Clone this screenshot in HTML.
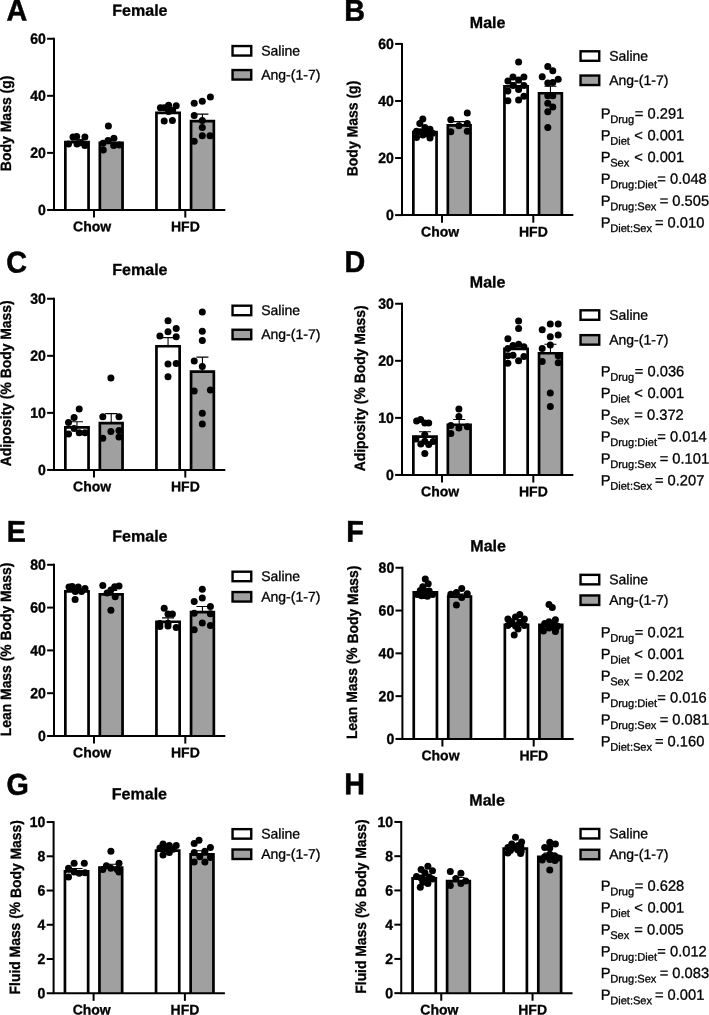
<!DOCTYPE html>
<html lang="en">
<head>
<meta charset="utf-8">
<title>Figure</title>
<style>
html,body{margin:0;padding:0;background:#fff;}
body{width:709px;height:1015px;overflow:hidden;}
svg{display:block;}
text{font-family:"Liberation Sans",sans-serif;fill:#000;text-rendering:geometricPrecision;}
.letter{font-size:30.0px;font-weight:bold;stroke:#000;stroke-width:0.5px;}
.title{font-size:16px;font-weight:bold;stroke:#000;stroke-width:0.3px;}
.ylab{font-size:14.9px;font-weight:bold;stroke:#000;stroke-width:0.3px;}
.tick{font-size:14.7px;font-weight:bold;stroke:#000;stroke-width:0.35px;}
.xlab{font-size:14px;font-weight:bold;stroke:#000;stroke-width:0.3px;}
.leg{font-size:14px;stroke:#000;stroke-width:0.3px;}
.pv{font-size:14.7px;stroke:#000;stroke-width:0.3px;}
.sub{font-size:11.1px;stroke:#000;stroke-width:0.3px;}
.bar{stroke:#000;stroke-width:2.7;}
.lbox{stroke:#000;stroke-width:2.4;}
.axis{stroke:#000;stroke-width:2;fill:none;}
.err{stroke:#000;stroke-width:1.1;fill:none;}
.dots circle{fill:#000;}
</style>
</head>
<body>
<svg width="709" height="1015" viewBox="0 0 709 1015">
<rect width="709" height="1015" fill="#fff"/>
<g class="panel" id="panel-A">
<text class="letter" transform="translate(6.54 20.45) rotate(0.03) scale(0.9567 1)">A</text>
<text class="title" transform="translate(139.9 15.8) rotate(0.03)" text-anchor="middle">Female</text>
<text class="ylab" transform="translate(11 123.35) rotate(-89.97) scale(0.94 1)" text-anchor="middle">Body Mass (g)</text>
<path class="err" d="M76.95 141.8V139.9M70.95 139.9H82.95"/>
<path class="bar" d="M65.35 209.95V142.15H88.55V209.95" fill="#fff"/>
<path class="err" d="M111.2 142.6V139.4M105.2 139.4H117.2"/>
<path class="bar" d="M99.85 209.95V142.95H122.55V209.95" fill="#a0a0a0"/>
<path class="err" d="M168.05 112.6V109.8M162.05 109.8H174.05"/>
<path class="bar" d="M156.45 209.95V112.95H179.65V209.95" fill="#fff"/>
<path class="err" d="M202.45 120.7V114.1M196.45 114.1H208.45"/>
<path class="bar" d="M191.05 209.95V121.05H213.85V209.95" fill="#a0a0a0"/>
<path class="axis" d="M54 37.75V209.95H225.3"/>
<path class="axis" d="M47.1 209.95H54"/>
<text class="tick" transform="translate(45.8 214.95) rotate(0.03) scale(0.955 1)" text-anchor="end">0</text>
<path class="axis" d="M47.1 152.88H54"/>
<text class="tick" transform="translate(45.8 157.88) rotate(0.03) scale(0.955 1)" text-anchor="end">20</text>
<path class="axis" d="M47.1 95.82H54"/>
<text class="tick" transform="translate(45.8 100.82) rotate(0.03) scale(0.955 1)" text-anchor="end">40</text>
<path class="axis" d="M47.1 38.75H54"/>
<text class="tick" transform="translate(45.8 43.75) rotate(0.03) scale(0.955 1)" text-anchor="end">60</text>
<path class="axis" d="M94 209.95V217.55"/>
<text class="xlab" transform="translate(92.1 231.25) rotate(0.03)" text-anchor="middle">Chow</text>
<path class="axis" d="M185.3 209.95V217.55"/>
<text class="xlab" transform="translate(185.4 231.25) rotate(0.03)" text-anchor="middle">HFD</text>
<g class="dots"><circle cx="73" cy="137.1" r="3.5"/><circle cx="76.7" cy="136.5" r="3.5"/><circle cx="84.9" cy="137.1" r="3.5"/><circle cx="68.5" cy="143.9" r="3.5"/><circle cx="77" cy="143.9" r="3.5"/><circle cx="84.9" cy="145.5" r="3.5"/><circle cx="81" cy="142.7" r="3.5"/><circle cx="108.4" cy="126" r="3.5"/><circle cx="113.9" cy="138.2" r="3.5"/><circle cx="108" cy="140.5" r="3.5"/><circle cx="103" cy="143.3" r="3.5"/><circle cx="113.7" cy="145.5" r="3.5"/><circle cx="119.3" cy="145" r="3.5"/><circle cx="103.3" cy="150.1" r="3.5"/><circle cx="160.4" cy="107.8" r="3.5"/><circle cx="164.2" cy="107.8" r="3.5"/><circle cx="168.6" cy="105.2" r="3.5"/><circle cx="168.6" cy="111.6" r="3.5"/><circle cx="176.2" cy="105.7" r="3.5"/><circle cx="172.6" cy="110.3" r="3.5"/><circle cx="164.2" cy="121" r="3.5"/><circle cx="172.4" cy="120.5" r="3.5"/><circle cx="194.2" cy="103.2" r="3.5"/><circle cx="202.3" cy="101.2" r="3.5"/><circle cx="210.4" cy="96.9" r="3.5"/><circle cx="194.2" cy="115.4" r="3.5"/><circle cx="202.3" cy="120.5" r="3.5"/><circle cx="202.3" cy="127.6" r="3.5"/><circle cx="202.3" cy="135.7" r="3.5"/><circle cx="210" cy="135.7" r="3.5"/><circle cx="194.2" cy="141.3" r="3.5"/></g>
<rect class="lbox" x="232.55" y="46.05" width="18.7" height="9.5" fill="#fff"/>
<rect class="lbox" x="232.55" y="70.05" width="18.7" height="9.5" fill="#a0a0a0"/>
<text class="leg" transform="translate(261.2 55.4) rotate(0.03)">Saline</text>
<text class="leg" transform="translate(261.2 79.4) rotate(0.03)">Ang-(1-7)</text>
</g>
<g class="panel" id="panel-B">
<text class="letter" transform="translate(344.33 20.75) rotate(0.03) scale(0.9567 1)">B</text>
<text class="title" transform="translate(487.6 27.9) rotate(0.03)" text-anchor="middle">Male</text>
<text class="ylab" transform="translate(357.5 128.5) rotate(-89.97) scale(0.94 1)" text-anchor="middle">Body Mass (g)</text>
<path class="err" d="M424.95 131.7V129.7M418.95 129.7H430.95"/>
<path class="bar" d="M413.35 215.1V132.05H436.55V215.1" fill="#fff"/>
<path class="err" d="M459.2 125.1V121.6M453.2 121.6H465.2"/>
<path class="bar" d="M447.85 215.1V125.45H470.55V215.1" fill="#a0a0a0"/>
<path class="err" d="M516.05 86V82.8M510.05 82.8H522.05"/>
<path class="bar" d="M504.45 215.1V86.35H527.65V215.1" fill="#fff"/>
<path class="err" d="M550.45 92.9V86.3M544.45 86.3H556.45"/>
<path class="bar" d="M539.05 215.1V93.25H561.85V215.1" fill="#a0a0a0"/>
<path class="axis" d="M402 42.9V215.1H573.3"/>
<path class="axis" d="M395.1 215.1H402"/>
<text class="tick" transform="translate(393.8 220.1) rotate(0.03) scale(0.955 1)" text-anchor="end">0</text>
<path class="axis" d="M395.1 158.03H402"/>
<text class="tick" transform="translate(393.8 163.03) rotate(0.03) scale(0.955 1)" text-anchor="end">20</text>
<path class="axis" d="M395.1 100.97H402"/>
<text class="tick" transform="translate(393.8 105.97) rotate(0.03) scale(0.955 1)" text-anchor="end">40</text>
<path class="axis" d="M395.1 43.9H402"/>
<text class="tick" transform="translate(393.8 48.9) rotate(0.03) scale(0.955 1)" text-anchor="end">60</text>
<path class="axis" d="M442 215.1V222.7"/>
<text class="xlab" transform="translate(440.1 236.4) rotate(0.03)" text-anchor="middle">Chow</text>
<path class="axis" d="M533.3 215.1V222.7"/>
<text class="xlab" transform="translate(533.4 236.4) rotate(0.03)" text-anchor="middle">HFD</text>
<g class="dots"><circle cx="422.8" cy="119.1" r="3.5"/><circle cx="419.8" cy="123.6" r="3.5"/><circle cx="424.9" cy="127.4" r="3.5"/><circle cx="416.5" cy="131.2" r="3.5"/><circle cx="420.3" cy="131.7" r="3.5"/><circle cx="430" cy="129.2" r="3.5"/><circle cx="416.5" cy="137.6" r="3.5"/><circle cx="422.8" cy="135" r="3.5"/><circle cx="426.7" cy="133.8" r="3.5"/><circle cx="430" cy="138.1" r="3.5"/><circle cx="432.5" cy="133.3" r="3.5"/><circle cx="425.4" cy="130.7" r="3.5"/><circle cx="467.3" cy="113" r="3.5"/><circle cx="450.8" cy="119.8" r="3.5"/><circle cx="467.3" cy="123.6" r="3.5"/><circle cx="458.9" cy="125.7" r="3.5"/><circle cx="450.8" cy="131.7" r="3.5"/><circle cx="467.3" cy="131.2" r="3.5"/><circle cx="518.6" cy="61.9" r="3.5"/><circle cx="513" cy="76.9" r="3.5"/><circle cx="523.9" cy="76.9" r="3.5"/><circle cx="507.9" cy="81" r="3.5"/><circle cx="518.6" cy="79.9" r="3.5"/><circle cx="513" cy="85.5" r="3.5"/><circle cx="523.9" cy="85.5" r="3.5"/><circle cx="507.9" cy="91.1" r="3.5"/><circle cx="518.6" cy="89.4" r="3.5"/><circle cx="523.9" cy="96.2" r="3.5"/><circle cx="507.9" cy="100.8" r="3.5"/><circle cx="518.6" cy="100" r="3.5"/><circle cx="547.8" cy="66.5" r="3.5"/><circle cx="552.8" cy="70.8" r="3.5"/><circle cx="542.2" cy="76.7" r="3.5"/><circle cx="558.2" cy="79.2" r="3.5"/><circle cx="547.8" cy="83" r="3.5"/><circle cx="552.8" cy="82.5" r="3.5"/><circle cx="547.8" cy="95.7" r="3.5"/><circle cx="552.8" cy="95.7" r="3.5"/><circle cx="547.8" cy="103.3" r="3.5"/><circle cx="552.8" cy="107.1" r="3.5"/><circle cx="547.8" cy="111.7" r="3.5"/><circle cx="547.8" cy="127.4" r="3.5"/></g>
<rect class="lbox" x="580.55" y="51.3" width="18.7" height="9.5" fill="#fff"/>
<rect class="lbox" x="580.55" y="75.55" width="18.7" height="9.5" fill="#a0a0a0"/>
<text class="leg" transform="translate(609.2 60.65) rotate(0.03)">Saline</text>
<text class="leg" transform="translate(609.2 84.9) rotate(0.03)">Ang-(1-7)</text>
<text class="pv" transform="translate(600.7 118.45) rotate(0.03)">P</text>
<text class="sub" transform="translate(610.15 122.95) rotate(0.03)">Drug</text>
<text class="pv" transform="translate(634.8 118.45) rotate(0.03)">= 0.291</text>
<text class="pv" transform="translate(600.7 140.25) rotate(0.03)">P</text>
<text class="sub" transform="translate(610.15 144.75) rotate(0.03)">Diet</text>
<text class="pv" transform="translate(633.75 140.25) rotate(0.03)"><tspan dx="0.5">&lt;</tspan><tspan dx="0.5"> 0.001</tspan></text>
<text class="pv" transform="translate(600.7 162.05) rotate(0.03)">P</text>
<text class="sub" transform="translate(610.15 166.55) rotate(0.03)">Sex</text>
<text class="pv" transform="translate(633.75 162.05) rotate(0.03)"><tspan dx="0.5">&lt;</tspan><tspan dx="0.5"> 0.001</tspan></text>
<text class="pv" transform="translate(600.7 183.85) rotate(0.03)">P</text>
<text class="sub" transform="translate(610.15 188.35) rotate(0.03)">Drug:Diet</text>
<text class="pv" transform="translate(657.3 183.85) rotate(0.03)">= 0.048</text>
<text class="pv" transform="translate(600.7 205.65) rotate(0.03)">P</text>
<text class="sub" transform="translate(610.15 210.15) rotate(0.03)">Drug:Sex</text>
<text class="pv" transform="translate(659.7 205.65) rotate(0.03)">= 0.505</text>
<text class="pv" transform="translate(600.7 227.45) rotate(0.03)">P</text>
<text class="sub" transform="translate(610.15 231.95) rotate(0.03)">Diet:Sex</text>
<text class="pv" transform="translate(654.9 227.45) rotate(0.03)">= 0.010</text>
</g>
<g class="panel" id="panel-C">
<text class="letter" transform="translate(6.27 272.45) rotate(0.03) scale(0.9567 1)">C</text>
<text class="title" transform="translate(139.9 275) rotate(0.03)" text-anchor="middle">Female</text>
<text class="ylab" transform="translate(11 383.35) rotate(-89.97) scale(0.932 1)" text-anchor="middle">Adiposity (% Body Mass)</text>
<path class="err" d="M76.95 427V421.7M70.95 421.7H82.95"/>
<path class="bar" d="M65.35 469.95V427.35H88.55V469.95" fill="#fff"/>
<path class="err" d="M111.2 422.7V413.6M105.2 413.6H117.2"/>
<path class="bar" d="M99.85 469.95V423.05H122.55V469.95" fill="#a0a0a0"/>
<path class="err" d="M168.05 345.9V337.6M162.05 337.6H174.05"/>
<path class="bar" d="M156.45 469.95V346.25H179.65V469.95" fill="#fff"/>
<path class="err" d="M202.45 371.3V357.1M196.45 357.1H208.45"/>
<path class="bar" d="M191.05 469.95V371.65H213.85V469.95" fill="#a0a0a0"/>
<path class="axis" d="M54 297.75V469.95H225.3"/>
<path class="axis" d="M47.1 469.95H54"/>
<text class="tick" transform="translate(45.8 474.95) rotate(0.03) scale(0.955 1)" text-anchor="end">0</text>
<path class="axis" d="M47.1 412.88H54"/>
<text class="tick" transform="translate(45.8 417.88) rotate(0.03) scale(0.955 1)" text-anchor="end">10</text>
<path class="axis" d="M47.1 355.82H54"/>
<text class="tick" transform="translate(45.8 360.82) rotate(0.03) scale(0.955 1)" text-anchor="end">20</text>
<path class="axis" d="M47.1 298.75H54"/>
<text class="tick" transform="translate(45.8 303.75) rotate(0.03) scale(0.955 1)" text-anchor="end">30</text>
<path class="axis" d="M94 469.95V477.55"/>
<text class="xlab" transform="translate(92.1 491.25) rotate(0.03)" text-anchor="middle">Chow</text>
<path class="axis" d="M185.3 469.95V477.55"/>
<text class="xlab" transform="translate(185.4 491.25) rotate(0.03)" text-anchor="middle">HFD</text>
<g class="dots"><circle cx="79.2" cy="409" r="3.5"/><circle cx="74.1" cy="417.4" r="3.5"/><circle cx="68.5" cy="422.5" r="3.5"/><circle cx="74.1" cy="428.6" r="3.5"/><circle cx="68.5" cy="433.9" r="3.5"/><circle cx="79.2" cy="432.7" r="3.5"/><circle cx="85" cy="432.7" r="3.5"/><circle cx="110.9" cy="377.9" r="3.5"/><circle cx="102.8" cy="416.7" r="3.5"/><circle cx="119" cy="416.7" r="3.5"/><circle cx="110.9" cy="431.4" r="3.5"/><circle cx="119" cy="430.6" r="3.5"/><circle cx="102.8" cy="438.2" r="3.5"/><circle cx="119" cy="437" r="3.5"/><circle cx="168" cy="320.8" r="3.5"/><circle cx="176.2" cy="328.4" r="3.5"/><circle cx="168" cy="331.7" r="3.5"/><circle cx="159.9" cy="336" r="3.5"/><circle cx="176.2" cy="336.8" r="3.5"/><circle cx="168" cy="364" r="3.5"/><circle cx="176.2" cy="363.5" r="3.5"/><circle cx="168" cy="376.7" r="3.5"/><circle cx="202.3" cy="311.9" r="3.5"/><circle cx="202.3" cy="331.2" r="3.5"/><circle cx="202.3" cy="340.6" r="3.5"/><circle cx="194.2" cy="360.9" r="3.5"/><circle cx="202.3" cy="366.5" r="3.5"/><circle cx="194.2" cy="390.9" r="3.5"/><circle cx="210.4" cy="390.1" r="3.5"/><circle cx="202.3" cy="413.2" r="3.5"/><circle cx="202.3" cy="423.9" r="3.5"/></g>
<rect class="lbox" x="232.55" y="305.7" width="18.7" height="9.5" fill="#fff"/>
<rect class="lbox" x="232.55" y="329.75" width="18.7" height="9.5" fill="#a0a0a0"/>
<text class="leg" transform="translate(261.2 315.05) rotate(0.03)">Saline</text>
<text class="leg" transform="translate(261.2 339.1) rotate(0.03)">Ang-(1-7)</text>
</g>
<g class="panel" id="panel-D">
<text class="letter" transform="translate(344.58 271.95) rotate(0.03) scale(0.9567 1)">D</text>
<text class="title" transform="translate(487.6 287.6) rotate(0.03)" text-anchor="middle">Male</text>
<text class="ylab" transform="translate(364.6 388.35) rotate(-89.97) scale(0.932 1)" text-anchor="middle">Adiposity (% Body Mass)</text>
<path class="err" d="M424.95 436.2V431.7M418.95 431.7H430.95"/>
<path class="bar" d="M413.35 474.95V436.55H436.55V474.95" fill="#fff"/>
<path class="err" d="M459.2 424.4V419.5M453.2 419.5H465.2"/>
<path class="bar" d="M447.85 474.95V424.75H470.55V474.95" fill="#a0a0a0"/>
<path class="err" d="M516.05 348.6V345.3M510.05 345.3H522.05"/>
<path class="bar" d="M504.45 474.95V348.95H527.65V474.95" fill="#fff"/>
<path class="err" d="M550.45 352.9V344.3M544.45 344.3H556.45"/>
<path class="bar" d="M539.05 474.95V353.25H561.85V474.95" fill="#a0a0a0"/>
<path class="axis" d="M402 302.75V474.95H573.3"/>
<path class="axis" d="M395.1 474.95H402"/>
<text class="tick" transform="translate(393.8 479.95) rotate(0.03) scale(0.955 1)" text-anchor="end">0</text>
<path class="axis" d="M395.1 417.88H402"/>
<text class="tick" transform="translate(393.8 422.88) rotate(0.03) scale(0.955 1)" text-anchor="end">10</text>
<path class="axis" d="M395.1 360.82H402"/>
<text class="tick" transform="translate(393.8 365.82) rotate(0.03) scale(0.955 1)" text-anchor="end">20</text>
<path class="axis" d="M395.1 303.75H402"/>
<text class="tick" transform="translate(393.8 308.75) rotate(0.03) scale(0.955 1)" text-anchor="end">30</text>
<path class="axis" d="M442 474.95V482.55"/>
<text class="xlab" transform="translate(440.1 496.25) rotate(0.03)" text-anchor="middle">Chow</text>
<path class="axis" d="M533.3 474.95V482.55"/>
<text class="xlab" transform="translate(533.4 496.25) rotate(0.03)" text-anchor="middle">HFD</text>
<g class="dots"><circle cx="416.6" cy="420.9" r="3.5"/><circle cx="420.6" cy="419.6" r="3.5"/><circle cx="424.8" cy="423.1" r="3.5"/><circle cx="428.7" cy="423.1" r="3.5"/><circle cx="424.8" cy="434.7" r="3.5"/><circle cx="415.9" cy="438.9" r="3.5"/><circle cx="433.2" cy="441.6" r="3.5"/><circle cx="420.8" cy="444.1" r="3.5"/><circle cx="428.7" cy="444.6" r="3.5"/><circle cx="424.8" cy="441.2" r="3.5"/><circle cx="424.8" cy="453.4" r="3.5"/><circle cx="458.9" cy="408.9" r="3.5"/><circle cx="458.9" cy="416.5" r="3.5"/><circle cx="450.8" cy="425.4" r="3.5"/><circle cx="467.3" cy="426.7" r="3.5"/><circle cx="458.9" cy="427.9" r="3.5"/><circle cx="450.8" cy="433.5" r="3.5"/><circle cx="518.6" cy="320.9" r="3.5"/><circle cx="518.6" cy="328.5" r="3.5"/><circle cx="507.9" cy="338.7" r="3.5"/><circle cx="513" cy="345.5" r="3.5"/><circle cx="518.6" cy="344.3" r="3.5"/><circle cx="523.9" cy="346.8" r="3.5"/><circle cx="507.9" cy="348.6" r="3.5"/><circle cx="507.9" cy="355.7" r="3.5"/><circle cx="513" cy="355.2" r="3.5"/><circle cx="523.9" cy="356.5" r="3.5"/><circle cx="518.6" cy="360.8" r="3.5"/><circle cx="507.9" cy="363.3" r="3.5"/><circle cx="550.3" cy="324" r="3.5"/><circle cx="558.2" cy="324" r="3.5"/><circle cx="542.2" cy="329.8" r="3.5"/><circle cx="558.2" cy="334.9" r="3.5"/><circle cx="550.3" cy="336.7" r="3.5"/><circle cx="550.3" cy="345" r="3.5"/><circle cx="542.2" cy="348.6" r="3.5"/><circle cx="558.2" cy="355.7" r="3.5"/><circle cx="542.2" cy="361.5" r="3.5"/><circle cx="558.2" cy="362.8" r="3.5"/><circle cx="550.3" cy="393" r="3.5"/><circle cx="550.3" cy="406.5" r="3.5"/></g>
<rect class="lbox" x="580.55" y="310.3" width="18.7" height="9.5" fill="#fff"/>
<rect class="lbox" x="580.55" y="335.15" width="18.7" height="9.5" fill="#a0a0a0"/>
<text class="leg" transform="translate(609.2 319.65) rotate(0.03)">Saline</text>
<text class="leg" transform="translate(609.2 344.5) rotate(0.03)">Ang-(1-7)</text>
<text class="pv" transform="translate(600.7 376.2) rotate(0.03)">P</text>
<text class="sub" transform="translate(610.15 380.7) rotate(0.03)">Drug</text>
<text class="pv" transform="translate(634.8 376.2) rotate(0.03)">= 0.036</text>
<text class="pv" transform="translate(600.7 398) rotate(0.03)">P</text>
<text class="sub" transform="translate(610.15 402.5) rotate(0.03)">Diet</text>
<text class="pv" transform="translate(633.75 398) rotate(0.03)"><tspan dx="0.5">&lt;</tspan><tspan dx="0.5"> 0.001</tspan></text>
<text class="pv" transform="translate(600.7 419.8) rotate(0.03)">P</text>
<text class="sub" transform="translate(610.15 424.3) rotate(0.03)">Sex</text>
<text class="pv" transform="translate(634.35 419.8) rotate(0.03)">= 0.372</text>
<text class="pv" transform="translate(600.7 441.6) rotate(0.03)">P</text>
<text class="sub" transform="translate(610.15 446.1) rotate(0.03)">Drug:Diet</text>
<text class="pv" transform="translate(657.3 441.6) rotate(0.03)">= 0.014</text>
<text class="pv" transform="translate(600.7 463.4) rotate(0.03)">P</text>
<text class="sub" transform="translate(610.15 467.9) rotate(0.03)">Drug:Sex</text>
<text class="pv" transform="translate(659.7 463.4) rotate(0.03)">= 0.101</text>
<text class="pv" transform="translate(600.7 485.2) rotate(0.03)">P</text>
<text class="sub" transform="translate(610.15 489.7) rotate(0.03)">Diet:Sex</text>
<text class="pv" transform="translate(654.9 485.2) rotate(0.03)">= 0.207</text>
</g>
<g class="panel" id="panel-E">
<text class="letter" transform="translate(6.63 541.75) rotate(0.03) scale(0.9567 1)">E</text>
<text class="title" transform="translate(139.9 541.5) rotate(0.03)" text-anchor="middle">Female</text>
<text class="ylab" transform="translate(11 649.4) rotate(-89.97) scale(0.932 1)" text-anchor="middle">Lean Mass (% Body Mass)</text>
<path class="err" d="M76.95 591V589.2M70.95 589.2H82.95"/>
<path class="bar" d="M65.35 736V591.35H88.55V736" fill="#fff"/>
<path class="err" d="M111.2 594V590.5M105.2 590.5H117.2"/>
<path class="bar" d="M99.85 736V594.35H122.55V736" fill="#a0a0a0"/>
<path class="err" d="M168.05 621.4V617.9M162.05 617.9H174.05"/>
<path class="bar" d="M156.45 736V621.75H179.65V736" fill="#fff"/>
<path class="err" d="M202.45 611.8V606.5M196.45 606.5H208.45"/>
<path class="bar" d="M191.05 736V612.15H213.85V736" fill="#a0a0a0"/>
<path class="axis" d="M54 563.8V736H225.3"/>
<path class="axis" d="M47.1 736H54"/>
<text class="tick" transform="translate(45.8 741) rotate(0.03) scale(0.955 1)" text-anchor="end">0</text>
<path class="axis" d="M47.1 693.2H54"/>
<text class="tick" transform="translate(45.8 698.2) rotate(0.03) scale(0.955 1)" text-anchor="end">20</text>
<path class="axis" d="M47.1 650.4H54"/>
<text class="tick" transform="translate(45.8 655.4) rotate(0.03) scale(0.955 1)" text-anchor="end">40</text>
<path class="axis" d="M47.1 607.6H54"/>
<text class="tick" transform="translate(45.8 612.6) rotate(0.03) scale(0.955 1)" text-anchor="end">60</text>
<path class="axis" d="M47.1 564.8H54"/>
<text class="tick" transform="translate(45.8 569.8) rotate(0.03) scale(0.955 1)" text-anchor="end">80</text>
<path class="axis" d="M94 736V743.6"/>
<text class="xlab" transform="translate(92.1 757.3) rotate(0.03)" text-anchor="middle">Chow</text>
<path class="axis" d="M185.3 736V743.6"/>
<text class="xlab" transform="translate(185.4 757.3) rotate(0.03)" text-anchor="middle">HFD</text>
<g class="dots"><circle cx="69" cy="586.9" r="3.5"/><circle cx="72.2" cy="586.4" r="3.5"/><circle cx="78.2" cy="586.9" r="3.5"/><circle cx="85" cy="588.4" r="3.5"/><circle cx="75.3" cy="591.4" r="3.5"/><circle cx="81.5" cy="591.4" r="3.5"/><circle cx="75.1" cy="599.5" r="3.5"/><circle cx="102.8" cy="585.4" r="3.5"/><circle cx="114.7" cy="586.7" r="3.5"/><circle cx="119" cy="586.1" r="3.5"/><circle cx="110.9" cy="590" r="3.5"/><circle cx="107.1" cy="593" r="3.5"/><circle cx="115.2" cy="596.8" r="3.5"/><circle cx="110.9" cy="610.3" r="3.5"/><circle cx="164.2" cy="608.2" r="3.5"/><circle cx="168" cy="613.9" r="3.5"/><circle cx="172.4" cy="613.9" r="3.5"/><circle cx="159.9" cy="623.4" r="3.5"/><circle cx="168" cy="623.2" r="3.5"/><circle cx="159.9" cy="626.6" r="3.5"/><circle cx="168" cy="626" r="3.5"/><circle cx="176.2" cy="627.5" r="3.5"/><circle cx="202.3" cy="589.2" r="3.5"/><circle cx="202.3" cy="598.1" r="3.5"/><circle cx="194.2" cy="601.4" r="3.5"/><circle cx="210.4" cy="606.5" r="3.5"/><circle cx="194.2" cy="613.3" r="3.5"/><circle cx="210.4" cy="613.8" r="3.5"/><circle cx="202.3" cy="623" r="3.5"/><circle cx="210.4" cy="625.5" r="3.5"/><circle cx="194.2" cy="629.8" r="3.5"/></g>
<rect class="lbox" x="232.55" y="571.7" width="18.7" height="9.5" fill="#fff"/>
<rect class="lbox" x="232.55" y="592.05" width="18.7" height="9.5" fill="#a0a0a0"/>
<text class="leg" transform="translate(261.2 581.05) rotate(0.03)">Saline</text>
<text class="leg" transform="translate(261.2 601.4) rotate(0.03)">Ang-(1-7)</text>
</g>
<g class="panel" id="panel-F">
<text class="letter" transform="translate(346.23 541.85) rotate(0.03) scale(0.9567 1)">F</text>
<text class="title" transform="translate(488.1 551.2) rotate(0.03)" text-anchor="middle">Male</text>
<text class="ylab" transform="translate(357.5 652.35) rotate(-89.97) scale(0.932 1)" text-anchor="middle">Lean Mass (% Body Mass)</text>
<path class="err" d="M425.35 591.9V590.7M419.35 590.7H431.35"/>
<path class="bar" d="M413.75 738.95V592.25H436.95V738.95" fill="#fff"/>
<path class="err" d="M459.6 596.2V594M453.6 594H465.6"/>
<path class="bar" d="M448.25 738.95V596.55H470.95V738.95" fill="#a0a0a0"/>
<path class="err" d="M516.45 624.5V622.3M510.45 622.3H522.45"/>
<path class="bar" d="M504.85 738.95V624.85H528.05V738.95" fill="#fff"/>
<path class="err" d="M550.85 624.5V622M544.85 622H556.85"/>
<path class="bar" d="M539.45 738.95V624.85H562.25V738.95" fill="#a0a0a0"/>
<path class="axis" d="M402.4 566.75V738.95H573.7"/>
<path class="axis" d="M395.5 738.95H402.4"/>
<text class="tick" transform="translate(394.2 743.95) rotate(0.03) scale(0.955 1)" text-anchor="end">0</text>
<path class="axis" d="M395.5 696.15H402.4"/>
<text class="tick" transform="translate(394.2 701.15) rotate(0.03) scale(0.955 1)" text-anchor="end">20</text>
<path class="axis" d="M395.5 653.35H402.4"/>
<text class="tick" transform="translate(394.2 658.35) rotate(0.03) scale(0.955 1)" text-anchor="end">40</text>
<path class="axis" d="M395.5 610.55H402.4"/>
<text class="tick" transform="translate(394.2 615.55) rotate(0.03) scale(0.955 1)" text-anchor="end">60</text>
<path class="axis" d="M395.5 567.75H402.4"/>
<text class="tick" transform="translate(394.2 572.75) rotate(0.03) scale(0.955 1)" text-anchor="end">80</text>
<path class="axis" d="M442.4 738.95V746.55"/>
<text class="xlab" transform="translate(440.5 760.25) rotate(0.03)" text-anchor="middle">Chow</text>
<path class="axis" d="M533.7 738.95V746.55"/>
<text class="xlab" transform="translate(533.8 760.25) rotate(0.03)" text-anchor="middle">HFD</text>
<g class="dots"><circle cx="425.3" cy="578.9" r="3.5"/><circle cx="428.2" cy="583.8" r="3.5"/><circle cx="422.8" cy="586.8" r="3.5"/><circle cx="420.3" cy="590.5" r="3.5"/><circle cx="424.9" cy="591" r="3.5"/><circle cx="429.2" cy="591" r="3.5"/><circle cx="417.2" cy="594.5" r="3.5"/><circle cx="432.6" cy="594.5" r="3.5"/><circle cx="420" cy="594" r="3.5"/><circle cx="430" cy="594" r="3.5"/><circle cx="421.5" cy="595.8" r="3.5"/><circle cx="427.4" cy="596.3" r="3.5"/><circle cx="424.5" cy="595.5" r="3.5"/><circle cx="426" cy="593" r="3.5"/><circle cx="461.7" cy="588.4" r="3.5"/><circle cx="456.4" cy="592.5" r="3.5"/><circle cx="450.8" cy="594.3" r="3.5"/><circle cx="467.3" cy="593.8" r="3.5"/><circle cx="461.7" cy="597.6" r="3.5"/><circle cx="456.4" cy="604.9" r="3.5"/><circle cx="519.8" cy="614.6" r="3.5"/><circle cx="507.9" cy="618.9" r="3.5"/><circle cx="515.5" cy="617.1" r="3.5"/><circle cx="524.4" cy="618.9" r="3.5"/><circle cx="511.7" cy="621.7" r="3.5"/><circle cx="519.8" cy="622.2" r="3.5"/><circle cx="507.9" cy="625.5" r="3.5"/><circle cx="515.5" cy="626" r="3.5"/><circle cx="524.4" cy="625.5" r="3.5"/><circle cx="518" cy="629" r="3.5"/><circle cx="511.7" cy="623.5" r="3.5"/><circle cx="514.2" cy="634.9" r="3.5"/><circle cx="549" cy="604.4" r="3.5"/><circle cx="552.3" cy="607.5" r="3.5"/><circle cx="555.4" cy="619.7" r="3.5"/><circle cx="549" cy="621.7" r="3.5"/><circle cx="544.7" cy="623.5" r="3.5"/><circle cx="552.3" cy="624.7" r="3.5"/><circle cx="557.6" cy="626.2" r="3.5"/><circle cx="542.2" cy="627.3" r="3.5"/><circle cx="549" cy="628" r="3.5"/><circle cx="555.4" cy="629" r="3.5"/><circle cx="543.4" cy="631.1" r="3.5"/><circle cx="555.4" cy="631.6" r="3.5"/></g>
<rect class="lbox" x="580.55" y="574.85" width="18.7" height="9.5" fill="#fff"/>
<rect class="lbox" x="580.55" y="595.45" width="18.7" height="9.5" fill="#a0a0a0"/>
<text class="leg" transform="translate(609.2 584.2) rotate(0.03)">Saline</text>
<text class="leg" transform="translate(609.2 604.8) rotate(0.03)">Ang-(1-7)</text>
<text class="pv" transform="translate(600.7 637.2) rotate(0.03)">P</text>
<text class="sub" transform="translate(610.15 641.7) rotate(0.03)">Drug</text>
<text class="pv" transform="translate(634.8 637.2) rotate(0.03)">= 0.021</text>
<text class="pv" transform="translate(600.7 659) rotate(0.03)">P</text>
<text class="sub" transform="translate(610.15 663.5) rotate(0.03)">Diet</text>
<text class="pv" transform="translate(633.75 659) rotate(0.03)"><tspan dx="0.5">&lt;</tspan><tspan dx="0.5"> 0.001</tspan></text>
<text class="pv" transform="translate(600.7 680.8) rotate(0.03)">P</text>
<text class="sub" transform="translate(610.15 685.3) rotate(0.03)">Sex</text>
<text class="pv" transform="translate(634.35 680.8) rotate(0.03)">= 0.202</text>
<text class="pv" transform="translate(600.7 702.6) rotate(0.03)">P</text>
<text class="sub" transform="translate(610.15 707.1) rotate(0.03)">Drug:Diet</text>
<text class="pv" transform="translate(657.3 702.6) rotate(0.03)">= 0.016</text>
<text class="pv" transform="translate(600.7 724.4) rotate(0.03)">P</text>
<text class="sub" transform="translate(610.15 728.9) rotate(0.03)">Drug:Sex</text>
<text class="pv" transform="translate(659.7 724.4) rotate(0.03)">= 0.081</text>
<text class="pv" transform="translate(600.7 746.2) rotate(0.03)">P</text>
<text class="sub" transform="translate(610.15 750.7) rotate(0.03)">Diet:Sex</text>
<text class="pv" transform="translate(654.9 746.2) rotate(0.03)">= 0.160</text>
</g>
<g class="panel" id="panel-G">
<text class="letter" transform="translate(6.47 794.65) rotate(0.03) scale(0.9567 1)">G</text>
<text class="title" transform="translate(139.4 799.2) rotate(0.03)" text-anchor="middle">Female</text>
<text class="ylab" transform="translate(20.5 907.25) rotate(-89.97) scale(0.932 1)" text-anchor="middle">Fluid Mass (% Body Mass)</text>
<path class="err" d="M76.55 871V868.5M70.55 868.5H82.55"/>
<path class="bar" d="M64.95 993.25V871.35H88.15V993.25" fill="#fff"/>
<path class="err" d="M110.8 867.2V864.2M104.8 864.2H116.8"/>
<path class="bar" d="M99.45 993.25V867.55H122.15V993.25" fill="#a0a0a0"/>
<path class="err" d="M167.65 850.2V848.2M161.65 848.2H173.65"/>
<path class="bar" d="M156.05 993.25V850.55H179.25V993.25" fill="#fff"/>
<path class="err" d="M202.05 854V850.8M196.05 850.8H208.05"/>
<path class="bar" d="M190.65 993.25V854.35H213.45V993.25" fill="#a0a0a0"/>
<path class="axis" d="M53.6 821.05V993.25H224.9"/>
<path class="axis" d="M46.7 993.25H53.6"/>
<text class="tick" transform="translate(45.4 998.25) rotate(0.03) scale(0.955 1)" text-anchor="end">0</text>
<path class="axis" d="M46.7 959.01H53.6"/>
<text class="tick" transform="translate(45.4 964.01) rotate(0.03) scale(0.955 1)" text-anchor="end">2</text>
<path class="axis" d="M46.7 924.77H53.6"/>
<text class="tick" transform="translate(45.4 929.77) rotate(0.03) scale(0.955 1)" text-anchor="end">4</text>
<path class="axis" d="M46.7 890.53H53.6"/>
<text class="tick" transform="translate(45.4 895.53) rotate(0.03) scale(0.955 1)" text-anchor="end">6</text>
<path class="axis" d="M46.7 856.29H53.6"/>
<text class="tick" transform="translate(45.4 861.29) rotate(0.03) scale(0.955 1)" text-anchor="end">8</text>
<path class="axis" d="M46.7 822.05H53.6"/>
<text class="tick" transform="translate(45.4 827.05) rotate(0.03) scale(0.955 1)" text-anchor="end">10</text>
<path class="axis" d="M93.6 993.25V1000.85"/>
<text class="xlab" transform="translate(91.7 1014.55) rotate(0.03)" text-anchor="middle">Chow</text>
<path class="axis" d="M184.9 993.25V1000.85"/>
<text class="xlab" transform="translate(185 1014.55) rotate(0.03)" text-anchor="middle">HFD</text>
<g class="dots"><circle cx="74.1" cy="863.2" r="3.5"/><circle cx="84.3" cy="863.2" r="3.5"/><circle cx="68.5" cy="868.2" r="3.5"/><circle cx="74.1" cy="872" r="3.5"/><circle cx="79.2" cy="873.3" r="3.5"/><circle cx="85" cy="872.8" r="3.5"/><circle cx="68.5" cy="877.1" r="3.5"/><circle cx="110.9" cy="851.2" r="3.5"/><circle cx="119" cy="863.2" r="3.5"/><circle cx="106.4" cy="865.7" r="3.5"/><circle cx="102.8" cy="869.5" r="3.5"/><circle cx="110.9" cy="868.2" r="3.5"/><circle cx="117.3" cy="869.5" r="3.5"/><circle cx="119" cy="872" r="3.5"/><circle cx="163" cy="844.1" r="3.5"/><circle cx="169.3" cy="845.4" r="3.5"/><circle cx="176.2" cy="845.4" r="3.5"/><circle cx="159.9" cy="847.9" r="3.5"/><circle cx="166.3" cy="849.2" r="3.5"/><circle cx="173.1" cy="849.2" r="3.5"/><circle cx="169.3" cy="852.5" r="3.5"/><circle cx="163" cy="855" r="3.5"/><circle cx="199" cy="840.3" r="3.5"/><circle cx="194.2" cy="843.4" r="3.5"/><circle cx="210.4" cy="847.4" r="3.5"/><circle cx="204.9" cy="851.2" r="3.5"/><circle cx="194.2" cy="852.5" r="3.5"/><circle cx="199.8" cy="856.8" r="3.5"/><circle cx="210.4" cy="857.6" r="3.5"/><circle cx="194.2" cy="861.9" r="3.5"/><circle cx="204.9" cy="861.9" r="3.5"/></g>
<rect class="lbox" x="232.55" y="829.15" width="18.7" height="9.5" fill="#fff"/>
<rect class="lbox" x="232.55" y="849.5" width="18.7" height="9.5" fill="#a0a0a0"/>
<text class="leg" transform="translate(261.2 838.5) rotate(0.03)">Saline</text>
<text class="leg" transform="translate(261.2 858.85) rotate(0.03)">Ang-(1-7)</text>
</g>
<g class="panel" id="panel-H">
<text class="letter" transform="translate(344.33 794.35) rotate(0.03) scale(0.9567 1)">H</text>
<text class="title" transform="translate(487.1 805.6) rotate(0.03)" text-anchor="middle">Male</text>
<text class="ylab" transform="translate(366.4 906.55) rotate(-89.97) scale(0.932 1)" text-anchor="middle">Fluid Mass (% Body Mass)</text>
<path class="err" d="M424.2 878.1V876M418.2 876H430.2"/>
<path class="bar" d="M412.6 993.15V878.45H435.8V993.15" fill="#fff"/>
<path class="err" d="M458.45 880.7V877.5M452.45 877.5H464.45"/>
<path class="bar" d="M447.1 993.15V881.05H469.8V993.15" fill="#a0a0a0"/>
<path class="err" d="M515.3 848.2V846M509.3 846H521.3"/>
<path class="bar" d="M503.7 993.15V848.55H526.9V993.15" fill="#fff"/>
<path class="err" d="M549.7 856.5V853M543.7 853H555.7"/>
<path class="bar" d="M538.3 993.15V856.85H561.1V993.15" fill="#a0a0a0"/>
<path class="axis" d="M401.25 820.95V993.15H572.55"/>
<path class="axis" d="M394.35 993.15H401.25"/>
<text class="tick" transform="translate(393.05 998.15) rotate(0.03) scale(0.955 1)" text-anchor="end">0</text>
<path class="axis" d="M394.35 958.91H401.25"/>
<text class="tick" transform="translate(393.05 963.91) rotate(0.03) scale(0.955 1)" text-anchor="end">2</text>
<path class="axis" d="M394.35 924.67H401.25"/>
<text class="tick" transform="translate(393.05 929.67) rotate(0.03) scale(0.955 1)" text-anchor="end">4</text>
<path class="axis" d="M394.35 890.43H401.25"/>
<text class="tick" transform="translate(393.05 895.43) rotate(0.03) scale(0.955 1)" text-anchor="end">6</text>
<path class="axis" d="M394.35 856.19H401.25"/>
<text class="tick" transform="translate(393.05 861.19) rotate(0.03) scale(0.955 1)" text-anchor="end">8</text>
<path class="axis" d="M394.35 821.95H401.25"/>
<text class="tick" transform="translate(393.05 826.95) rotate(0.03) scale(0.955 1)" text-anchor="end">10</text>
<path class="axis" d="M441.25 993.15V1000.75"/>
<text class="xlab" transform="translate(439.35 1014.45) rotate(0.03)" text-anchor="middle">Chow</text>
<path class="axis" d="M532.55 993.15V1000.75"/>
<text class="xlab" transform="translate(532.65 1014.45) rotate(0.03)" text-anchor="middle">HFD</text>
<g class="dots"><circle cx="427.9" cy="866.2" r="3.5"/><circle cx="421.1" cy="869.5" r="3.5"/><circle cx="432.5" cy="870.8" r="3.5"/><circle cx="424.9" cy="872.8" r="3.5"/><circle cx="416.5" cy="876.4" r="3.5"/><circle cx="421.1" cy="877.9" r="3.5"/><circle cx="429.2" cy="877.1" r="3.5"/><circle cx="424.9" cy="880.4" r="3.5"/><circle cx="432.5" cy="878.9" r="3.5"/><circle cx="427.9" cy="883.5" r="3.5"/><circle cx="422.8" cy="882.2" r="3.5"/><circle cx="420.3" cy="887.3" r="3.5"/><circle cx="450.3" cy="871.5" r="3.5"/><circle cx="460.9" cy="873.3" r="3.5"/><circle cx="455.9" cy="878.4" r="3.5"/><circle cx="465.7" cy="880.9" r="3.5"/><circle cx="460.9" cy="883.5" r="3.5"/><circle cx="450.3" cy="885.5" r="3.5"/><circle cx="515.5" cy="837.3" r="3.5"/><circle cx="521.6" cy="842" r="3.5"/><circle cx="511.7" cy="844.1" r="3.5"/><circle cx="518" cy="845.4" r="3.5"/><circle cx="507.9" cy="847.4" r="3.5"/><circle cx="514.2" cy="847.9" r="3.5"/><circle cx="520.8" cy="846.5" r="3.5"/><circle cx="510.4" cy="850.5" r="3.5"/><circle cx="518" cy="850" r="3.5"/><circle cx="521.3" cy="851" r="3.5"/><circle cx="507.9" cy="853" r="3.5"/><circle cx="520.6" cy="853.5" r="3.5"/><circle cx="549.8" cy="842.3" r="3.5"/><circle cx="555.4" cy="844.1" r="3.5"/><circle cx="544.7" cy="847.4" r="3.5"/><circle cx="549.8" cy="848" r="3.5"/><circle cx="549.8" cy="854.3" r="3.5"/><circle cx="544.7" cy="856.8" r="3.5"/><circle cx="554.9" cy="856.1" r="3.5"/><circle cx="558.7" cy="858.1" r="3.5"/><circle cx="542.2" cy="860.1" r="3.5"/><circle cx="549.8" cy="859.4" r="3.5"/><circle cx="554.9" cy="860.6" r="3.5"/><circle cx="549.8" cy="870" r="3.5"/></g>
<rect class="lbox" x="580.55" y="828.95" width="18.7" height="9.5" fill="#fff"/>
<rect class="lbox" x="580.55" y="849.75" width="18.7" height="9.5" fill="#a0a0a0"/>
<text class="leg" transform="translate(609.2 838.3) rotate(0.03)">Saline</text>
<text class="leg" transform="translate(609.2 859.1) rotate(0.03)">Ang-(1-7)</text>
<text class="pv" transform="translate(600.7 890.8) rotate(0.03)">P</text>
<text class="sub" transform="translate(610.15 895.3) rotate(0.03)">Drug</text>
<text class="pv" transform="translate(634.8 890.8) rotate(0.03)">= 0.628</text>
<text class="pv" transform="translate(600.7 912.6) rotate(0.03)">P</text>
<text class="sub" transform="translate(610.15 917.1) rotate(0.03)">Diet</text>
<text class="pv" transform="translate(633.75 912.6) rotate(0.03)"><tspan dx="0.5">&lt;</tspan><tspan dx="0.5"> 0.001</tspan></text>
<text class="pv" transform="translate(600.7 934.4) rotate(0.03)">P</text>
<text class="sub" transform="translate(610.15 938.9) rotate(0.03)">Sex</text>
<text class="pv" transform="translate(634.35 934.4) rotate(0.03)">= 0.005</text>
<text class="pv" transform="translate(600.7 956.2) rotate(0.03)">P</text>
<text class="sub" transform="translate(610.15 960.7) rotate(0.03)">Drug:Diet</text>
<text class="pv" transform="translate(657.3 956.2) rotate(0.03)">= 0.012</text>
<text class="pv" transform="translate(600.7 978) rotate(0.03)">P</text>
<text class="sub" transform="translate(610.15 982.5) rotate(0.03)">Drug:Sex</text>
<text class="pv" transform="translate(659.7 978) rotate(0.03)">= 0.083</text>
<text class="pv" transform="translate(600.7 999.8) rotate(0.03)">P</text>
<text class="sub" transform="translate(610.15 1004.3) rotate(0.03)">Diet:Sex</text>
<text class="pv" transform="translate(654.9 999.8) rotate(0.03)">= 0.001</text>
</g>
</svg>
</body>
</html>
